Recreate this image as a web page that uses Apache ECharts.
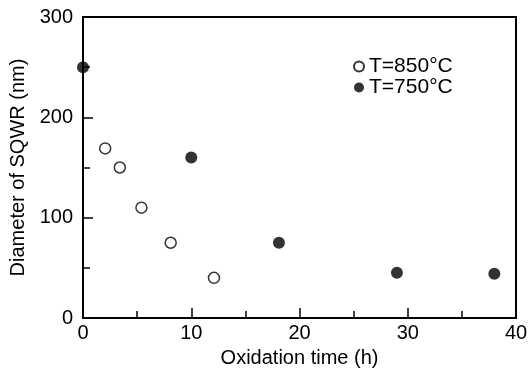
<!DOCTYPE html>
<html><head><meta charset="utf-8">
<script src="https://cdn.jsdelivr.net/npm/echarts@6/dist/echarts.min.js"></script>
<style>html,body{margin:0;padding:0;background:#fff}#c{width:529px;height:368px}</style>
</head><body><div id="c"></div>
<script>
const xName = 'Oxidation time (h)';
const yName = 'Diameter of SQWR (nm)';
const series850Name = 'T=850°C';
const series750Name = 'T=750°C';
const time850 = [2.05, 3.4, 5.4, 8.1, 12.1];
const diam850 = [169, 150, 110, 75, 40];
const time750 = [0, 10, 18.1, 29, 38];
const diam750 = [250, 160, 75, 45, 44];

const font = 'Liberation Sans, Arial, Helvetica, sans-serif';
const chart = echarts.init(document.getElementById('c'));
chart.setOption({
  animation: false,
  backgroundColor: '#fff',
  textStyle: {fontFamily: font, color: '#000'},
  grid: {left: 83, right: 13, top: 17, bottom: 50, show: true, borderColor: '#000', borderWidth: 2,
         containLabel: false, outerBoundsMode: 'none'},
  legend: {
    orient: 'vertical', left: 353, top: 56, itemGap: 0, itemWidth: 10, itemHeight: 10,
    padding: 0,
    textStyle: {fontFamily: font, fontSize: 21, color: '#000'},
    data: [
      {name: series850Name, icon: 'circle'},
      {name: series750Name, icon: 'circle'}
    ]
  },
  xAxis: {
    type: 'value', min: 0, max: 40, interval: 10,
    name: xName, nameLocation: 'middle', nameGap: 30,
    nameTextStyle: {fontFamily: font, fontSize: 20, color: '#000'},
    axisLine: {show: true, lineStyle: {color: '#000', width: 2}},
    axisTick: {show: true, inside: true, length: 10, lineStyle: {color: '#000', width: 1.5}},
    minorTick: {show: true, splitNumber: 2, length: 7, lineStyle: {color: '#000', width: 1.5}},
    splitLine: {show: false},
    axisLabel: {fontFamily: font, fontSize: 20, color: '#000', margin: 5}
  },
  yAxis: {
    type: 'value', min: 0, max: 300, interval: 100,
    name: yName, nameLocation: 'middle', nameGap: 51, nameRotate: 90,
    nameTextStyle: {fontFamily: font, fontSize: 20, color: '#000'},
    axisLine: {show: true, lineStyle: {color: '#000', width: 2}},
    axisTick: {show: true, inside: true, length: 10, lineStyle: {color: '#000', width: 1.5}},
    minorTick: {show: true, splitNumber: 2, length: 7, lineStyle: {color: '#000', width: 1.5}},
    splitLine: {show: false},
    axisLabel: {fontFamily: font, fontSize: 20, color: '#000', margin: 10}
  },
  series: [
    {
      name: series850Name, type: 'scatter', symbol: 'circle', symbolSize: 11,
      data: time850.map((t, i) => [t, diam850[i]]),
      itemStyle: {color: '#fff', borderColor: '#000', borderWidth: 1.5}
    },
    {
      name: series750Name, type: 'scatter', symbol: 'circle', symbolSize: 12,
      data: time750.map((t, i) => [t, diam750[i]]),
      itemStyle: {color: '#000', borderColor: '#000', borderWidth: 0}
    }
  ]
});
</script></body></html>
